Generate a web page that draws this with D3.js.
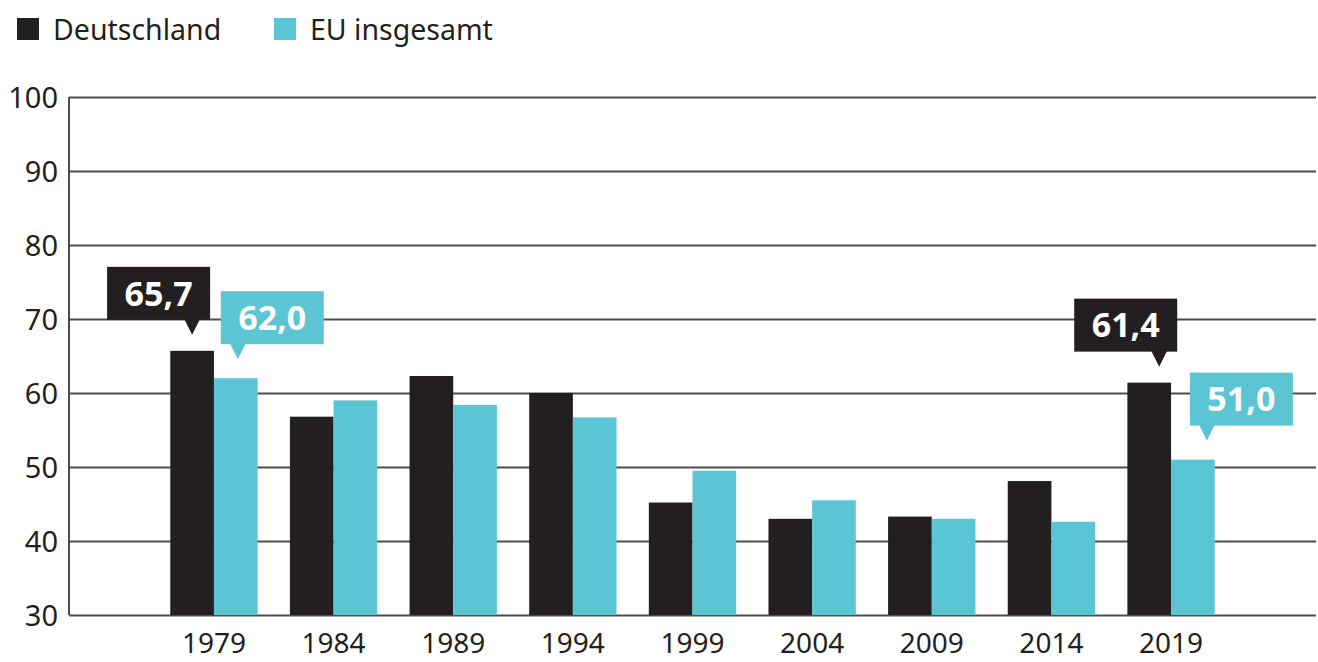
<!DOCTYPE html>
<html>
<head>
<meta charset="utf-8">
<script src="https://cdn.jsdelivr.net/npm/d3@7"></script>
<style>
	body { margin: 0; background: #fff; }
	svg { display: block; font-family: "Noto Sans", sans-serif; }
</style>
</head>
<body>
<div id="chart"></div>
<script>
const years = ['1979', '1984', '1989', '1994', '1999', '2004', '2009', '2014', '2019'];
const seriesNames = ['Deutschland', 'EU insgesamt'];
const deutschland = [65.7, 56.8, 62.3, 60.0, 45.2, 43.0, 43.3, 48.1, 61.4];
const euInsgesamt = [62.0, 59.0, 58.4, 56.7, 49.5, 45.5, 43.0, 42.6, 51.0];
const yTicks = [30, 40, 50, 60, 70, 80, 90, 100];
// which bars carry a value callout
const callouts = [
	{ series: 0, year: '1979', side: 'left' },
	{ series: 1, year: '1979', side: 'right' },
	{ series: 0, year: '2019', side: 'left' },
	{ series: 1, year: '2019', side: 'right' }
];

const width = 1318;
const height = 662;
const colors = ['#231f20', '#5bc5d4'];
const gridColor = '#4d4d4d';

const svg = d3.select('#chart')
	.append('svg')
	.attr('width', width)
	.attr('height', height);

const x = d3.scaleBand()
	.domain(years)
	.range([65, 1320])
	.paddingInner(0.27)
	.paddingOuter(0.88);

const xs = d3.scaleBand()
	.domain([0, 1])
	.range([0, x.bandwidth()]);

const y = d3.scaleLinear()
	.domain([30, 100])
	.range([615, 97]);

const values = [deutschland, euInsgesamt];
const fmt = (v) => d3.format('.1f')(v).replace('.', ',');

// grid
const grid = svg.append('g')
	.attr('transform', 'translate(69,0)')
	.call(d3.axisLeft(y).tickValues(yTicks).tickSize(-(1316 - 69)).tickFormat(d => d));

grid.select('.domain').remove();
grid.selectAll('.tick line')
	.attr('stroke', gridColor)
	.attr('stroke-width', 2);
grid.selectAll('.tick text')
	.attr('x', -11)
	.attr('dy', '0.35em')
	.attr('fill', '#231f20')
	.style('font-size', '29px')
	.style('font-family', '"Noto Sans", sans-serif');

svg.append('line')
	.attr('x1', 69).attr('x2', 69)
	.attr('y1', y(100)).attr('y2', y(30))
	.attr('stroke', gridColor)
	.attr('stroke-width', 2);

// bars
const groups = svg.append('g')
	.selectAll('g')
	.data(years)
	.join('g')
	.attr('transform', (d) => `translate(${x(d)},0)`);

groups.selectAll('rect')
	.data((d, i) => values.map((s, k) => ({ k, v: s[i] })))
	.join('rect')
	.attr('x', (d) => xs(d.k))
	.attr('width', xs.bandwidth())
	.attr('y', (d) => y(d.v))
	.attr('height', (d) => y(30) - y(d.v))
	.attr('fill', (d) => colors[d.k]);

// year labels
svg.append('g')
	.selectAll('text')
	.data(years)
	.join('text')
	.attr('x', (d) => x(d) + x.bandwidth() / 2)
	.attr('y', 653)
	.attr('text-anchor', 'middle')
	.attr('fill', '#231f20')
	.style('font-size', '28px')
	.text((d) => d);

// callouts
const boxW = 103, boxH = 53;
const co = svg.append('g')
	.selectAll('g')
	.data(callouts)
	.join('g')
	.attr('transform', (d) => {
		const i = years.indexOf(d.year);
		const v = values[d.series][i];
		const cx = x(d.year) + xs(d.series) + xs.bandwidth() / 2 + (d.series === 0 ? (d.year === '2019' ? 10 : 0) : (d.year === '2019' ? 14 : 2));
		const tipY = y(v) - (d.series === 0 ? 16 : 19);
		return `translate(${cx},${tipY})`;
	});

co.append('rect')
	.attr('x', (d) => d.side === 'left' ? -85 : -17)
	.attr('y', -15 - boxH)
	.attr('width', boxW)
	.attr('height', boxH)
	.attr('fill', (d) => colors[d.series]);

co.append('path')
	.attr('d', 'M-8,-16L8,-16L0,0Z')
	.attr('fill', (d) => colors[d.series]);

co.append('text')
	.attr('x', (d) => (d.side === 'left' ? -85 : -17) + boxW / 2)
	.attr('y', -15 - boxH / 2)
	.attr('dy', '0.36em')
	.attr('text-anchor', 'middle')
	.attr('fill', '#fff')
	.style('font-size', '34px')
	.style('font-weight', 700)
	.text((d) => fmt(values[d.series][years.indexOf(d.year)]));

// legend
const legend = svg.append('g')
	.selectAll('g')
	.data(seriesNames)
	.join('g')
	.attr('transform', (d, i) => `translate(${i === 0 ? 17 : 274},0)`);

legend.append('rect')
	.attr('x', 0).attr('y', 18)
	.attr('width', 22).attr('height', 22)
	.attr('fill', (d, i) => colors[i]);

legend.append('text')
	.attr('x', 36)
	.attr('y', 40)
	.attr('fill', '#231f20')
	.style('font-size', '28.5px')
	.text((d) => d);
</script>
</body>
</html>
